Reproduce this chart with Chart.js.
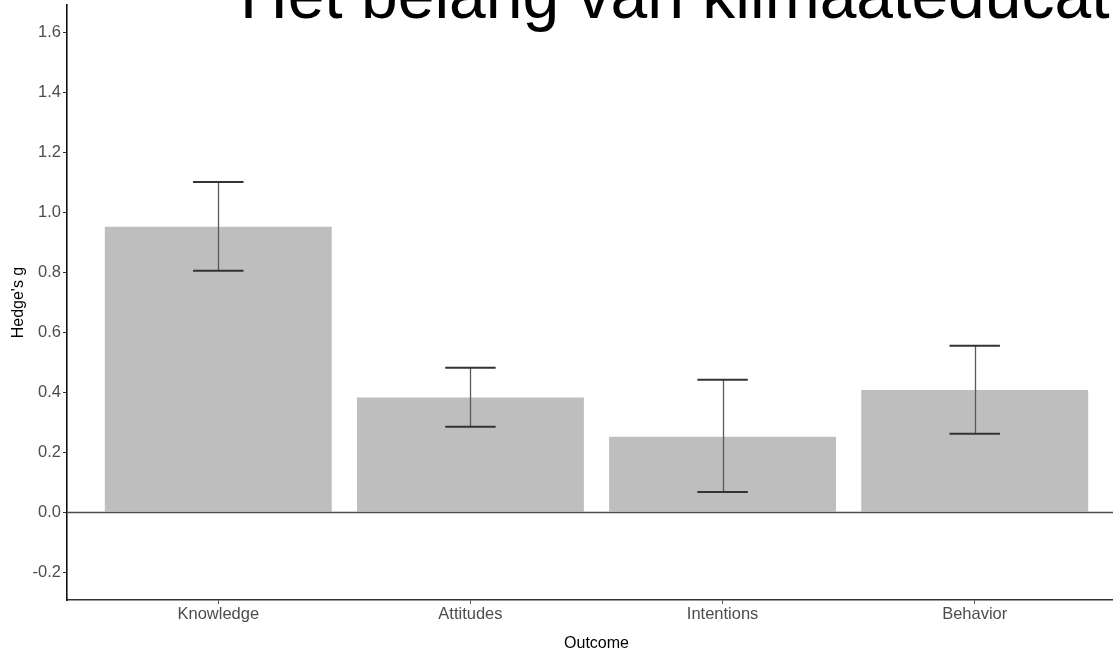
<!DOCTYPE html>
<html lang="nl">
<head>
    <meta charset="UTF-8">
    <title>Het belang van klimaateducatie</title>
    <style>
        html, body { margin: 0; padding: 0; background: #fff; overflow: hidden; }
        #wrap { position: relative; width: 1130px; height: 651px; }
    </style>
</head>
<body>
<div id="wrap">
    <canvas id="chart"></canvas>
</div>
<script src="https://cdn.jsdelivr.net/npm/chart.js@4/dist/chart.umd.min.js"></script>
<script>
    'use strict';
    // data
    var outcomes = ['Knowledge', 'Attitudes', 'Intentions', 'Behavior'];
    var hedgesG = [0.951, 0.382, 0.251, 0.407];
    var ciLower = [0.804, 0.284, 0.067, 0.261];
    var ciUpper = [1.100, 0.481, 0.441, 0.554];
    var yTicks = [-0.2, 0.0, 0.2, 0.4, 0.6, 0.8, 1.0, 1.2, 1.4, 1.6];

    var FONT = "'Liberation Sans', Arial, Helvetica, sans-serif";
    var CAP_HALF = 0.1;   // half width of the whisker caps, in category units
    Chart.defaults.font.family = FONT;

    // zero line, error bars and the texts around the plot
    var overlay = {
        id: 'overlay',
        afterDatasetsDraw: function (chart) {
            var ctx = chart.ctx, area = chart.chartArea;
            var xs = chart.scales.x, ys = chart.scales.y;
            ctx.save();
            // hline at 0
            var y0 = Math.round(ys.getPixelForValue(0)) + 0.5;
            ctx.strokeStyle = '#4d4d4d';
            ctx.lineWidth = 1.6;
            ctx.beginPath();
            ctx.moveTo(area.left, y0);
            ctx.lineTo(area.right, y0);
            ctx.stroke();
            // error bars
            for (var i = 0; i < outcomes.length; i++) {
                var cx = Math.round(xs.getPixelForValue(i + 1)) + 0.5;
                var top = ys.getPixelForValue(ciUpper[i]);
                var bot = ys.getPixelForValue(ciLower[i]);
                ctx.strokeStyle = '#5a5a5a';
                ctx.lineWidth = 1.3;
                ctx.beginPath();
                ctx.moveTo(cx, top);
                ctx.lineTo(cx, bot);
                ctx.stroke();
                ctx.strokeStyle = '#333';
                ctx.lineWidth = 2;
                var l = xs.getPixelForValue(i + 1 - CAP_HALF);
                var r = xs.getPixelForValue(i + 1 + CAP_HALF);
                ctx.beginPath();
                ctx.moveTo(l, top);
                ctx.lineTo(r, top);
                ctx.moveTo(l, bot);
                ctx.lineTo(r, bot);
                ctx.stroke();
            }
            ctx.restore();
        },
        afterDraw: function (chart) {
            var ctx = chart.ctx, area = chart.chartArea;
            ctx.save();
            ctx.fillStyle = '#000';
            // axis titles
            ctx.font = '16px ' + FONT;
            ctx.textAlign = 'center';
            ctx.textBaseline = 'middle';
            ctx.fillText('Outcome', (area.left + area.right) / 2, 644);
            ctx.translate(19, (area.top + area.bottom) / 2);
            ctx.rotate(-Math.PI / 2);
            ctx.fillText("Hedge's g", 0, 0);
            ctx.restore();
            // slide title, runs off the top and right edge
            ctx.save();
            ctx.fillStyle = '#000';
            ctx.font = '66px ' + FONT;
            ctx.textAlign = 'left';
            ctx.textBaseline = 'alphabetic';
            ctx.fillText('Het belang van klimaateducatie', 240, 18);
            ctx.restore();
        }
    };

    var ctx = document.getElementById('chart');
    var chart = new Chart(ctx, {
        type: 'bar',
        data: {
            datasets: [{
                data: outcomes.map(function (name, i) { return {x: i + 1, y: hedgesG[i]}; }),
                backgroundColor: '#bebebe',
                borderWidth: 0,
                barPercentage: 0.9,
                categoryPercentage: 1.0
            }]
        },
        options: {
            responsive: true,
            maintainAspectRatio: false,
            animation: false,
            devicePixelRatio: 1,
            layout: {padding: {top: 5, right: 4, bottom: 0, left: 0}},
            plugins: {legend: {display: false}, tooltip: {enabled: false}},
            scales: {
                x: {
                    type: 'linear',
                    min: 0.4,
                    max: 4.6,
                    offset: false,
                    bounds: 'data',
                    afterBuildTicks: function (s) {
                        s.ticks = outcomes.map(function (name, i) { return {value: i + 1}; });
                    },
                    afterFit: function (s) {
                        s.height = 51;
                        s.paddingLeft = 0;
                        s.paddingRight = 0;
                    },
                    ticks: {
                        autoSkip: false,
                        maxRotation: 0,
                        padding: 1,
                        color: '#4d4d4d',
                        font: {size: 16.5},
                        callback: function (v) { return outcomes[Math.round(v) - 1]; }
                    },
                    grid: {offset: false, drawOnChartArea: false, drawTicks: true, tickLength: 4, color: '#555'},
                    border: {display: true, color: '#333', width: 1.5}
                },
                y: {
                    type: 'linear',
                    min: -0.293,
                    max: 1.69,
                    bounds: 'data',
                    afterBuildTicks: function (s) {
                        s.ticks = yTicks.map(function (v) { return {value: v}; });
                    },
                    afterFit: function (s) {
                        s.width = 67;
                        s.paddingTop = 0;
                        s.paddingBottom = 0;
                    },
                    ticks: {
                        padding: 2,
                        color: '#4d4d4d',
                        font: {size: 16.5},
                        callback: function (v) { return Number(v).toFixed(1); }
                    },
                    grid: {drawOnChartArea: false, drawTicks: true, tickLength: 4, color: '#333'},
                    border: {display: true, color: '#111', width: 1.6}
                }
            }
        },
        plugins: [overlay]
    });
</script>
</body>
</html>
